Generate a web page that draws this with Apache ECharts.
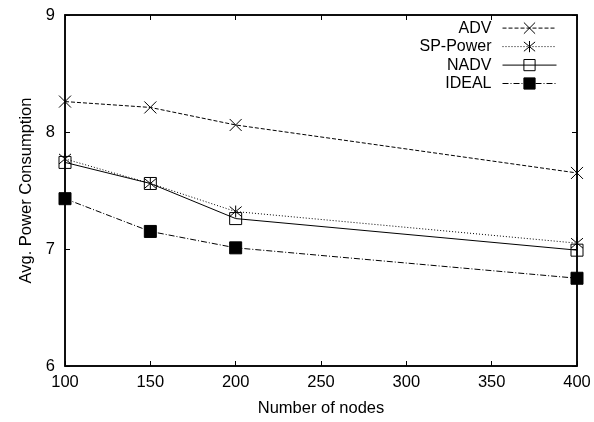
<!DOCTYPE html>
<html><head><meta charset="utf-8">
<script src="https://cdn.jsdelivr.net/npm/echarts@6/dist/echarts.min.js"></script>
<style>html,body{margin:0;padding:0;background:#fff}#c{width:594px;height:422px}</style>
</head><body><div id="c"></div>
<script>
const nodes = [100, 150, 200, 400];
const adv = [8.26, 8.21, 8.06, 7.65];
const spPower = [7.77, 7.56, 7.32, 7.05];
const nadv = [7.74, 7.56, 7.26, 6.99];
const ideal = [7.43, 7.15, 7.01, 6.75];
const seriesNames = ['ADV', 'SP-Power', 'NADV', 'IDEAL'];

const F = 'Liberation Sans, Arial, Helvetica, sans-serif';
const crossPath = 'path://M0,0L10,10M10,0L0,10';
const starPath = 'path://M0,0L10,10M10,0L0,10M5,-1L5,11';
const sqPath = 'path://M0,0L10,0L10,10L0,10Z';

function pts(arr){ return nodes.map((x,i)=>[x, arr[i]]); }
function mk(name, arr, dash, symbol, size, fill){
  return {
    name, type:'line', data: pts(arr), symbol, symbolSize: size,
    lineStyle:{color:'#000', width:1, type: dash},
    itemStyle:{color: fill, borderColor:'#000', borderWidth:1},
    emphasis:{disabled:true}, animation:false
  };
}
const axBase = {type:'value', axisLine:{show:true, lineStyle:{color:'#000', width:1.5}},
  axisTick:{show:true, inside:true, length:5, lineStyle:{color:'#000'}},
  splitLine:{show:false}};
const chart = echarts.init(document.getElementById('c'));
chart.setOption({
  animation:false,
  grid:{left:65, right:17, top:15, bottom:54, show:true, borderColor:'#000', borderWidth:1.5},
  xAxis:[
    Object.assign({}, axBase, {position:'bottom', min:100, max:400, interval:50,
      axisLabel:{color:'#000', fontFamily:F, fontSize:16.5, margin:8},
      name:'Number of nodes', nameLocation:'middle', nameGap:34,
      nameTextStyle:{color:'#000', fontFamily:F, fontSize:16.5}}),
    Object.assign({}, axBase, {position:'top', min:100, max:400, interval:50, axisLabel:{show:false}})
  ],
  yAxis:[
    Object.assign({}, axBase, {position:'left', min:6, max:9, interval:1,
      axisLabel:{color:'#000', fontFamily:F, fontSize:16.5, margin:10},
      name:'Avg. Power Consumption', nameLocation:'middle', nameGap:28,
      nameTextStyle:{color:'#000', fontFamily:F, fontSize:16.5}}),
    Object.assign({}, axBase, {position:'right', min:6, max:9, interval:1, axisLabel:{show:false}})
  ],
  legend:{
    orient:'vertical', right:37, top:20, padding:0, align:'right', itemGap:2.3, itemWidth:54, itemHeight:14,
    data: seriesNames,
    lineStyle:{width:1},
    itemStyle:{borderWidth:1},
    textStyle:{color:'#000', fontFamily:F, fontSize:16, lineHeight:14, padding:[0,6,0,0]},
    selectedMode:false
  },
  series:[
    mk(seriesNames[0], adv, [4,2], crossPath, 12, 'none'),
    mk(seriesNames[1], spPower, [1,2], starPath, 12, 'none'),
    mk(seriesNames[2], nadv, 'solid', sqPath, 12, 'none'),
    mk(seriesNames[3], ideal, [6,2,1,2], sqPath, 12, '#000')
  ]
});
</script></body></html>
